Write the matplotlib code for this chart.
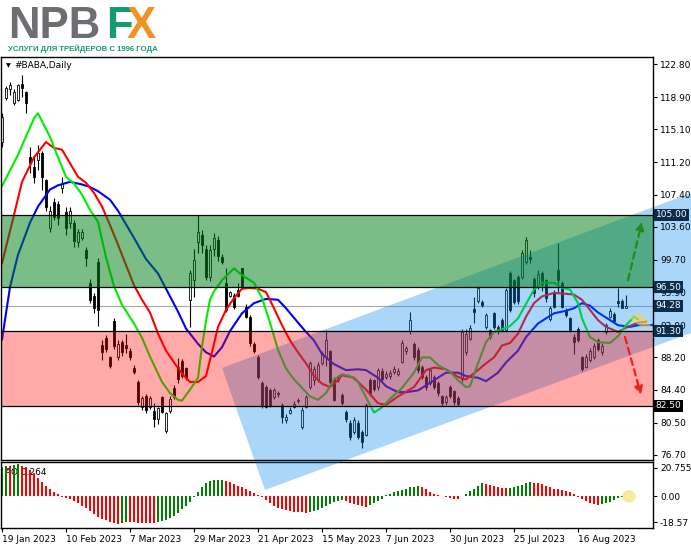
import numpy as np
import matplotlib
matplotlib.use("Agg")
import matplotlib.pyplot as plt
import matplotlib.transforms as mtransforms
from matplotlib.patches import Polygon, Rectangle, Ellipse
from matplotlib import font_manager

# ---- daily candles, #BABA (bar 0 = 19 Jan 2023) ----
opens = [113.6, 118.8, 119.8, 118.2, 118.6, 120.5, 119.5, 111.8, 110.7, 111.5,
         112.3, 109.1, 103.5, 106.5, 106.3, 108.2, 105.4, 104.1, 104.0, 101.8,
         102.3, 100.9, 97.0, 95.5, 99.5, 89.7, 90.5, 88.2, 92.5, 88.3,
         90.0, 89.7, 89.0, 87.0, 85.3, 82.3, 83.7, 82.3, 81.9, 80.9,
         83.5, 79.5, 81.9, 84.6, 87.1, 87.8, 86.9, 95.0, 97.3, 101.8,
         102.6, 101.0, 97.7, 101.0, 102.0, 100.0, 97.0, 95.5, 95.6, 96.2,
         98.7, 94.2, 93.0, 89.8, 88.2, 85.2, 84.7, 84.4, 83.5, 84.0,
         82.6, 80.8, 81.7, 82.4, 83.0, 80.0, 82.4, 84.7, 85.5, 85.6,
         87.5, 88.2, 88.9, 85.7, 85.9, 83.8, 81.8, 80.5, 79.4, 80.5,
         79.4, 79.1, 85.5, 85.5, 84.7, 86.6, 85.9, 86.0, 86.5, 86.3,
         87.7, 88.9, 91.3, 89.8, 89.1, 87.1, 85.9, 85.2, 85.9, 85.2,
         83.6, 82.9, 84.7, 84.2, 83.4, 85.6, 88.8, 90.4, 93.9, 94.8,
         94.7, 91.8, 91.4, 93.4, 91.8, 92.6, 91.4, 98.2, 97.3, 97.7,
         97.7, 99.5, 100.0, 97.5, 96.6, 98.2, 97.3, 92.7, 95.9, 98.5,
         97.0, 93.8, 92.8, 90.6, 91.6, 88.2, 87.1, 87.9, 88.3, 90.3,
         88.8, 91.2, 93.0, 93.3, 94.8, 94.9, 94.0]
highs = [117.0, 120.2, 120.7, 119.8, 120.5, 121.5, 119.6, 113.0, 112.1, 113.3,
         112.6, 109.3, 106.0, 107.0, 106.6, 109.5, 105.9, 105.9, 104.4, 103.3,
         103.4, 101.2, 97.5, 95.8, 99.9, 90.3, 90.8, 88.4, 92.8, 90.2,
         90.3, 91.0, 89.3, 87.3, 85.5, 83.7, 83.9, 83.6, 82.8, 82.4,
         83.7, 81.8, 83.6, 84.9, 88.1, 88.0, 87.1, 98.5, 101.0, 105.0,
         103.2, 101.4, 101.4, 102.9, 102.5, 100.4, 98.8, 96.0, 95.8, 97.0,
         98.8, 94.5, 93.2, 90.0, 88.5, 85.4, 84.9, 84.6, 84.6, 84.2,
         82.8, 81.5, 82.3, 83.0, 83.4, 82.3, 83.8, 87.8, 87.2, 87.6,
         88.9, 91.4, 89.1, 85.9, 86.1, 84.0, 82.0, 80.8, 81.2, 80.8,
         79.6, 82.8, 85.8, 85.7, 87.0, 87.0, 86.6, 86.7, 87.2, 87.0,
         90.3, 89.6, 93.5, 90.0, 89.4, 87.3, 86.1, 87.0, 86.1, 85.4,
         83.8, 83.8, 84.9, 84.4, 83.6, 91.5, 91.5, 92.0, 95.3, 96.6,
         95.0, 93.4, 91.6, 93.6, 92.0, 92.8, 96.4, 98.4, 97.5, 97.9,
         100.9, 102.4, 100.9, 97.7, 98.5, 98.4, 97.5, 94.3, 96.1, 101.7,
         97.2, 94.0, 93.0, 91.0, 91.8, 88.4, 88.6, 89.3, 89.9, 90.5,
         89.9, 92.2, 94.0, 93.5, 96.4, 95.1, 95.6]
lows = [113.0, 118.5, 119.2, 118.0, 118.4, 118.9, 117.0, 110.0, 108.8, 110.3,
        108.0, 105.5, 103.0, 104.4, 103.8, 107.6, 102.6, 103.5, 101.2, 101.2,
        102.0, 99.0, 94.6, 93.4, 91.9, 87.9, 88.8, 86.9, 89.2, 87.9,
        88.4, 88.7, 87.9, 86.2, 82.6, 82.0, 81.6, 82.1, 80.0, 80.3,
        81.6, 79.3, 81.7, 83.3, 85.2, 85.8, 85.5, 91.8, 95.3, 100.5,
        100.5, 97.3, 97.2, 100.2, 99.6, 99.2, 93.5, 95.3, 93.9, 95.3,
        96.3, 92.8, 89.6, 88.7, 85.6, 82.2, 82.2, 82.4, 83.3, 83.5,
        80.5, 80.5, 81.5, 82.2, 82.8, 79.8, 82.2, 84.5, 85.0, 85.3,
        87.3, 87.2, 85.0, 83.0, 85.3, 82.6, 80.6, 78.4, 79.2, 78.6,
        77.5, 78.9, 83.6, 84.2, 84.4, 85.4, 85.6, 85.7, 86.3, 86.0,
        87.5, 88.6, 91.0, 87.9, 86.4, 85.6, 84.4, 84.9, 84.5, 83.6,
        82.5, 82.6, 83.4, 82.6, 82.5, 85.3, 88.5, 90.2, 92.3, 94.6,
        94.2, 91.6, 90.4, 91.6, 91.0, 91.2, 91.2, 93.5, 94.5, 94.5,
        97.5, 99.2, 99.3, 95.3, 96.3, 96.0, 94.7, 92.5, 94.0, 95.8,
        94.0, 93.0, 91.2, 88.6, 90.0, 86.6, 86.9, 87.7, 88.0, 89.0,
        88.5, 91.0, 92.8, 92.3, 94.1, 94.0, 94.0]
closes = [116.5, 120.0, 120.3, 119.5, 120.3, 120.0, 118.2, 111.1, 109.5, 112.3,
          109.5, 105.9, 105.5, 104.8, 104.6, 108.6, 103.5, 105.5, 101.9, 103.0,
          103.0, 99.9, 95.0, 94.0, 93.8, 88.8, 89.2, 87.2, 89.5, 89.8,
          88.8, 89.3, 88.2, 86.5, 82.9, 83.4, 82.0, 83.4, 80.9, 82.2,
          81.8, 81.6, 83.3, 83.5, 85.6, 86.0, 85.8, 98.2, 99.7, 103.0,
          101.5, 97.7, 100.9, 102.3, 100.2, 99.5, 93.8, 95.9, 94.1, 95.5,
          96.5, 93.0, 89.9, 89.0, 85.9, 82.5, 82.4, 82.6, 84.4, 83.9,
          81.2, 81.2, 82.0, 82.7, 83.2, 82.0, 83.5, 87.5, 86.8, 87.3,
          88.7, 90.3, 85.3, 83.2, 85.5, 82.8, 80.9, 78.8, 80.8, 78.8,
          78.2, 82.6, 84.0, 84.5, 86.7, 85.7, 86.2, 86.4, 86.8, 86.6,
          89.9, 89.3, 92.6, 88.2, 86.7, 85.9, 84.7, 86.7, 84.7, 84.0,
          82.8, 83.5, 83.6, 82.9, 82.7, 91.2, 91.0, 91.7, 93.6, 96.4,
          94.4, 93.2, 90.6, 91.8, 91.3, 91.4, 96.2, 93.8, 94.7, 94.8,
          100.5, 102.0, 99.8, 95.8, 98.0, 96.9, 95.2, 94.0, 94.2, 97.3,
          94.2, 93.2, 91.4, 90.0, 90.3, 86.8, 88.3, 89.0, 89.6, 89.2,
          89.6, 92.0, 93.7, 92.5, 94.6, 94.0, 94.28]

# ---- Alligator lines (at sample bars) ----
lips_idx = [0, 4, 8, 9, 12, 14, 16, 18, 20, 22, 24, 26, 28, 30, 33, 35, 37, 40, 42, 44,
            45, 47, 49, 50, 51, 52, 53, 55, 58, 60, 63, 65, 67, 69, 71, 73, 75, 77, 79, 81,
            83, 85, 87, 89, 91, 93, 95, 97, 100, 103, 105, 107, 109, 112, 114, 116, 117, 119, 121, 123,
            125, 127, 129, 131, 133, 135, 138, 140, 142, 144, 145, 147, 149, 152, 154, 156, 158, 159]
lips_val = [108.4, 112.1, 116.4, 117.0, 114.2, 111.8, 109.5, 108.7, 107.4, 105.6,
            104.2, 100.0, 96.6, 94.4, 92.2, 90.5, 88.3, 85.3, 84.0, 83.2,
            83.1, 84.4, 85.8, 89.5, 92.5, 95.0, 96.0, 97.3, 98.7, 97.9,
            97.0, 95.2, 92.3, 89.1, 86.9, 85.6, 84.6, 83.6, 83.2, 84.0,
            85.6, 86.2, 86.0, 85.3, 83.5, 81.7, 82.3, 83.3, 84.6, 86.4,
            88.2, 88.2, 87.3, 86.5, 85.5, 84.7, 84.8, 87.5, 90.0, 91.2,
            91.5, 91.9, 92.8, 94.5, 96.2, 97.0, 97.0, 96.4, 96.2, 94.6,
            92.8, 90.6, 90.0, 89.9, 90.7, 92.0, 93.0, 92.7]
teeth_idx = [0, 3, 5, 8, 11, 13, 15, 17, 19, 21, 23, 25, 27, 29, 31, 33, 35, 37, 39, 41,
             43, 45, 47, 49, 51, 53, 54, 56, 58, 60, 62, 64, 66, 68, 70, 72, 74, 76, 78, 80,
             82, 84, 85, 88, 91, 94, 96, 99, 103, 106, 108, 111, 114, 116, 119, 121, 123, 125, 127, 129,
             131, 133, 135, 138, 141, 143, 145, 147, 149, 151, 154, 156, 159, 161]
teeth_val = [99.3, 105.0, 108.9, 111.8, 113.6, 112.9, 112.7, 111.1, 109.5, 108.8,
             107.6, 106.0, 103.8, 101.5, 99.1, 96.7, 95.0, 93.5, 91.0, 89.0,
             87.6, 86.3, 85.3, 85.3, 86.0, 89.8, 91.8, 93.8, 95.2, 96.3,
             96.4, 96.3, 95.9, 94.0, 92.0, 90.2, 88.8, 87.5, 86.0, 85.1,
             84.7, 85.5, 86.1, 85.8, 84.4, 82.8, 82.6, 83.6, 84.7, 86.7,
             87.0, 86.8, 85.9, 85.6, 86.7, 87.5, 88.2, 89.6, 89.9, 91.0,
             93.0, 94.6, 95.4, 95.8, 95.7, 95.6, 95.0, 93.8, 92.6, 91.8,
             91.2, 91.7, 92.3, 92.4]
jaw_idx = [0, 2, 4, 7, 9, 12, 14, 17, 20, 22, 24, 27, 29, 33, 36, 39, 41, 44, 46, 49,
           51, 53, 55, 57, 60, 63, 66, 69, 71, 74, 76, 78, 80, 83, 86, 89, 91, 94, 96, 99,
           101, 104, 106, 109, 111, 114, 116, 119, 121, 124, 126, 129, 131, 134, 138, 141, 143, 145, 147, 149,
           152, 154, 157, 159, 162, 164]
jaw_val = [90.3, 96.5, 100.3, 104.1, 106.0, 108.0, 108.5, 108.9, 108.6, 108.3,
           107.8, 106.8, 105.5, 102.3, 99.8, 98.1, 96.3, 93.6, 91.6, 89.8,
           88.8, 88.3, 89.4, 91.3, 93.4, 94.6, 95.1, 95.0, 94.0, 92.3,
           91.2, 90.2, 88.6, 87.4, 86.7, 86.8, 86.7, 85.8, 84.8, 84.1,
           84.1, 84.3, 84.9, 85.8, 86.4, 86.4, 86.0, 85.8, 85.4, 86.4,
           87.6, 89.0, 90.6, 92.2, 93.4, 93.7, 94.0, 94.6, 94.3, 93.5,
           92.6, 92.0, 91.8, 92.0, 92.0, 92.0]

# ---- Awesome Oscillator ----
ao = [21.5, 22.0, 21.7, 22.5, 23.0, 22.0, 21.0, 18.8, 16.5, 13.1,
      10.0, 7.6, 5.2, 3.3, 1.7, -0.5, -1.2, -1.9, -3.1, -5.0,
      -6.7, -8.6, -10.7, -12.6, -14.6, -16.2, -17.4, -18.4, -19.1, -19.8,
      -19.0, -18.6, -18.7, -18.9, -19.0, -19.2, -19.3, -19.4, -19.5, -18.8,
      -18.0, -17.0, -15.8, -14.0, -12.0, -9.5, -7.0, -4.0, -0.5, 3.0,
      6.5, 9.5, 11.0, 11.6, 11.8, 11.9, 11.2, 10.3, 9.0, 7.8,
      6.5, 5.0, 3.8, 2.5, 1.0, -0.8, -3.0, -5.0, -6.8, -8.2,
      -9.3, -10.0, -10.6, -11.0, -11.3, -11.5, -11.7, -11.4, -10.7, -9.6,
      -8.2, -6.8, -5.3, -4.2, -3.2, -2.8, -3.5, -4.5, -5.5, -6.3,
      -7.0, -7.4, -6.5, -5.0, -3.5, -1.8, 0.8, 2.0, 3.0, 3.6,
      4.3, 5.5, 6.8, 7.0, 7.2, 6.8, 5.0, 3.2, 1.8, 0.8,
      0.2, -0.6, -1.2, -1.6, -2.0, 0.5, 1.8, 3.5, 5.5, 7.5,
      9.5, 9.0, 8.5, 7.8, 6.8, 6.2, 5.8, 6.3, 6.9, 7.5,
      8.4, 9.4, 10.2, 9.8, 9.5, 8.6, 7.6, 6.5, 5.5, 5.2,
      4.5, 3.8, 3.0, 1.5, -0.5, -2.0, -3.5, -4.8, -5.5, -6.2,
      -5.5, -4.8, -4.0, -3.0, -1.2, -0.5, 0.264]

date_labels = ['19 Jan 2023', '10 Feb 2023', '7 Mar 2023', '29 Mar 2023', '21 Apr 2023',
               '15 May 2023', '7 Jun 2023', '30 Jun 2023', '25 Jul 2023', '16 Aug 2023']
date_idx = [0, 16, 32, 48, 64, 80, 96, 112, 128, 144]

price_ticks = [122.80, 118.90, 115.10, 111.20, 107.40, 103.60, 99.70, 95.90, 92.00,
               88.20, 84.40, 80.50, 76.70]
ao_ticks = [20.755, 0.0, -18.57]
ao_tick_labels = ['20.755', '0.00', '-18.57']

buy_zone = (96.50, 105.00)
sell_zone = (82.50, 91.30)
last_price = 94.28

# ---------------------------------------------------------------
W, H = 691, 549
fig = plt.figure(figsize=(W / 100, H / 100), dpi=100)


def px_box(x0, y0, x1, y1):
    return [x0 / W, 1 - y1 / H, (x1 - x0) / W, (y1 - y0) / H]


ax = fig.add_axes(px_box(1, 57, 653, 460))
ao_ax = fig.add_axes(px_box(1, 462, 653, 528), sharex=ax)
ax.set_zorder(3)  # the drawn channel spills over the AO panel

idx = np.arange(len(closes))
o, h, l, c = (np.array(v) for v in (opens, highs, lows, closes))
up = c >= o
body_lo = np.minimum(o, c)
body_h = np.maximum(np.abs(c - o), 0.1)

ax.vlines(idx, l, h, color='black', lw=0.8, zorder=1.0)
ax.bar(idx[up], body_h[up], bottom=body_lo[up], width=0.62, color='white',
       edgecolor='black', linewidth=0.6, zorder=1.1)
ax.bar(idx[~up], body_h[~up], bottom=body_lo[~up], width=0.62, color='black',
       edgecolor='black', linewidth=0.6, zorder=1.1)

ax.axhline(last_price, color='#a8a8a8', lw=0.8, zorder=0.9)

ax.plot(jaw_idx, jaw_val, color='#0000ff', lw=1.5, zorder=1.3)
ax.plot(teeth_idx, teeth_val, color='#ff0000', lw=1.5, zorder=1.3)
ax.plot(lips_idx, lips_val, color='#00ee00', lw=1.5, zorder=1.3)

# rising channel drawn on top of the chart
channel = Polygon([(55.0, 86.96), (172.25, 107.59), (172.25, 91.08), (65.75, 72.57)],
                  closed=True, facecolor=(5 / 255, 137 / 255, 240 / 255), alpha=0.34,
                  edgecolor='none', zorder=1.5, clip_on=False)
ax.add_patch(channel)

ax.add_patch(Rectangle((-5, buy_zone[0]), 200, buy_zone[1] - buy_zone[0],
                       facecolor=(0, 130 / 255, 24 / 255), alpha=0.52, edgecolor='none', zorder=1.6))
ax.add_patch(Rectangle((-5, sell_zone[0]), 200, sell_zone[1] - sell_zone[0],
                       facecolor=(1, 5 / 255, 5 / 255), alpha=0.34, edgecolor='none', zorder=1.6))
for lvl in (*buy_zone, *sell_zone):
    ax.axhline(lvl, color='black', lw=0.9, zorder=1.7)

# highlight and arrows
ax.add_patch(Polygon([(156.75, 92.85), (159.5, 93.44), (162.5, 91.79), (160.25, 91.67)],
                     closed=True, facecolor='#f5d84a', alpha=0.6, edgecolor='none', zorder=1.8))
ax.annotate('', xy=(160.0, 104.2), xytext=(156.5, 97.3),
            arrowprops=dict(arrowstyle='-|>', linestyle=(0, (3, 2)), color='#1e8c1e',
                            lw=1.6, mutation_scale=12, shrinkA=0, shrinkB=0), zorder=4)
ax.annotate('', xy=(159.75, 83.8), xytext=(155.75, 90.6),
            arrowprops=dict(arrowstyle='-|>', linestyle=(0, (3, 2)), color='#f01e1e',
                            lw=1.6, mutation_scale=12, shrinkA=0, shrinkB=0), zorder=4)

ax.set_xlim(-0.25, 162.75)
ax.set_ylim(76.10, 123.63)
ax.yaxis.tick_right()
ax.set_yticks(price_ticks)
ax.set_yticklabels([f'{t:.2f}' for t in price_ticks])
ax.tick_params(axis='y', length=3, width=0.8, labelsize=6.5, pad=2, colors='black')
ax.tick_params(axis='x', bottom=False, labelbottom=False)
for s in ax.spines.values():
    s.set_linewidth(1.0)

# price tags on the right axis
tag_tr = mtransforms.blended_transform_factory(ax.transAxes, ax.transData)
tags = [(buy_zone[1], '#0a2d4d'), (buy_zone[0], '#0a2d4d'), (last_price, '#0a2d4d'),
        (sell_zone[1], '#0a2d4d'), (sell_zone[0], '#000000')]
for val, col in tags:
    ax.text(1.004, val, f'{val:.2f}', transform=tag_tr, ha='left', va='center',
            fontsize=6.5, color='white', clip_on=False, zorder=5,
            bbox=dict(boxstyle='square,pad=0.18', facecolor=col, edgecolor='none'))

ax.text(0.007, 0.979, '\u25bc', transform=ax.transAxes, fontsize=4.5, va='center', ha='left')
ax.text(0.020, 0.979, '#BABA,Daily', transform=ax.transAxes, fontsize=6.5, va='center', ha='left')

# ---- AO panel ----
ao_arr = np.array(ao)
ao_col = ['#008000'] + ['#008000' if ao_arr[i] > ao_arr[i - 1] else '#ff0000'
                        for i in range(1, len(ao_arr))]
ao_ax.bar(idx, ao_arr, width=0.72, color=ao_col, zorder=2)
ao_ax.add_patch(Ellipse((156.75, 0.0), 3.4, 9.0, facecolor='#f8e27a', alpha=0.75,
                        edgecolor='none', zorder=3))
ao_ax.text(0.006, 0.80, 'AO 0.264', transform=ao_ax.transAxes, fontsize=6.5, zorder=1)
ao_ax.set_ylim(-22.9, 24.8)
ao_ax.yaxis.tick_right()
ao_ax.set_yticks(ao_ticks)
ao_ax.set_yticklabels(ao_tick_labels)
ao_ax.tick_params(axis='y', length=3, width=0.8, labelsize=6.5, pad=2)
ao_ax.set_xticks(date_idx)
ao_ax.set_xticklabels(date_labels, ha='left')
ao_ax.tick_params(axis='x', length=3, width=0.8, labelsize=6.5, pad=2)
for lab in ao_ax.get_xticklabels():
    lab.set_x(lab.get_position()[0])
for s in ao_ax.spines.values():
    s.set_linewidth(1.0)

# ---- logo ----
names = {f.name for f in font_manager.fontManager.ttflist}
logo_font = 'Liberation Sans' if 'Liberation Sans' in names else 'DejaVu Sans'
narrow = 'Liberation Sans Narrow' if 'Liberation Sans Narrow' in names else logo_font
base_y = 1 - 38 / H
fig.text(8 / W, base_y, 'NPB', color='#6d6e71', fontsize=31.5, fontweight='bold',
         family=logo_font, va='baseline', ha='left')
fig.text(106 / W, base_y, 'F', color='#169b6e', fontsize=31.5, fontweight='bold',
         family=logo_font, va='baseline', ha='left')
fig.text(127 / W, base_y, 'X', color='#f39220', fontsize=31.5, fontweight='bold',
         family=logo_font, va='baseline', ha='left')
sub = fig.text(8 / W, 1 - 51 / H, 'УСЛУГИ ДЛЯ ТРЕЙДЕРОВ С 1996 ГОДА', color='#169b6e',
               fontsize=8, fontweight='bold', family=narrow, va='baseline', ha='left')
fig.canvas.draw()
bw = sub.get_window_extent().width
sub.set_fontsize(8 * 150 / bw)

fig.savefig('out.png', dpi=100)
